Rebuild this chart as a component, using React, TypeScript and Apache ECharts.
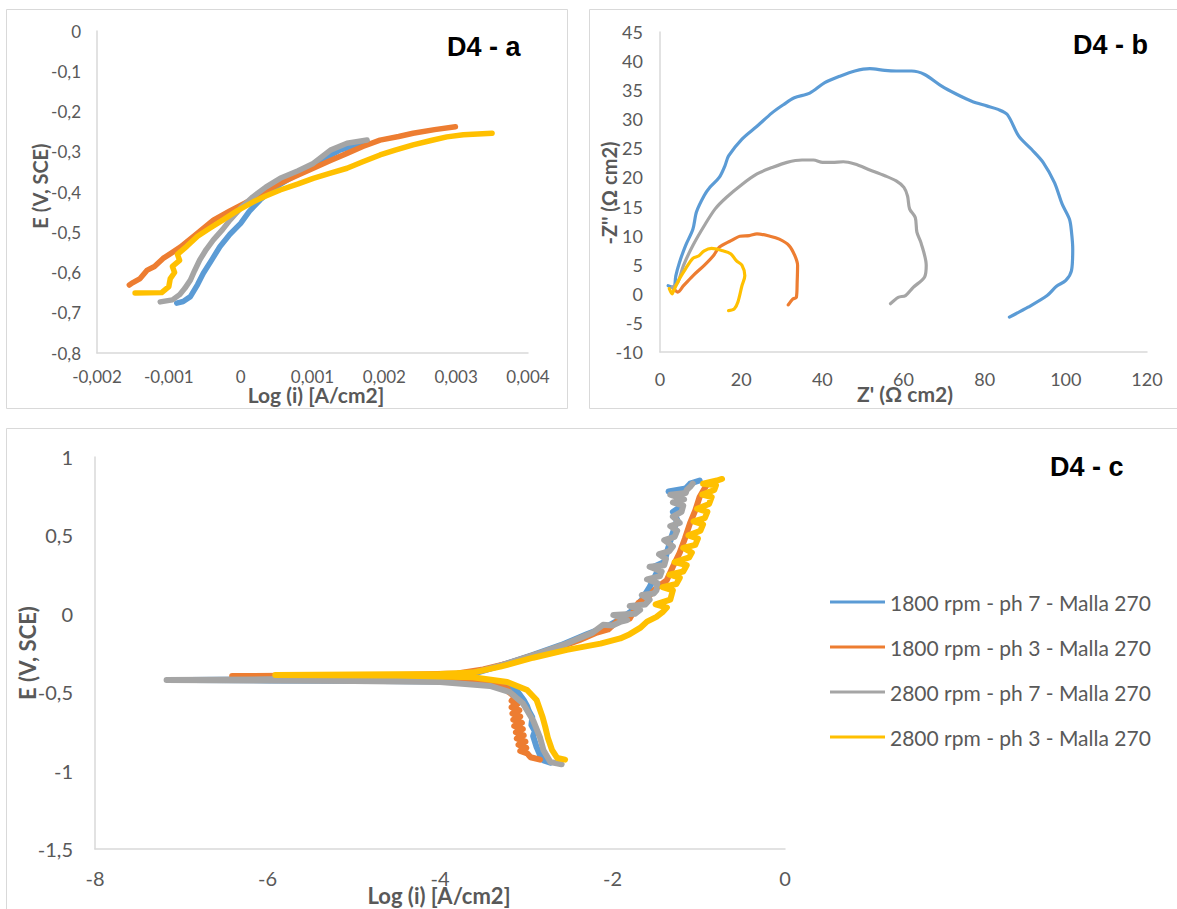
import React, { useEffect, useRef } from "react";
import * as echarts from "echarts";

const BLUE = "#5b9bd5";
const ORANGE = "#ed7d31";
const GRAY = "#a5a5a5";
const YELLOW = "#ffc000";

const seriesNames = [
  "1800 rpm - ph 7 - Malla 270",
  "1800 rpm - ph 3 - Malla 270",
  "2800 rpm - ph 7 - Malla 270",
  "2800 rpm - ph 3 - Malla 270",
];
const panelTitles = ["D4 - a", "D4 - b", "D4 - c"];

// Panel a: E vs Log(i) (narrow range)
const aBlue = [
  [-0.00089, -0.676], [-0.0008, -0.672], [-0.0007, -0.66], [-0.0006, -0.63], [-0.00052, -0.602],
  [-0.0004, -0.568], [-0.00029, -0.536], [-0.00015, -0.505], [0.0, -0.478], [0.00012, -0.448],
  [0.00027, -0.42], [0.00045, -0.392], [0.00065, -0.37], [0.00101, -0.333], [0.00138, -0.296],
  [0.00176, -0.275],
];
const aOrange = [
  [-0.00155, -0.631], [-0.0015, -0.625], [-0.0014, -0.615], [-0.0013, -0.594], [-0.0012, -0.585],
  [-0.00108, -0.565], [-0.00095, -0.55], [-0.00084, -0.537], [-0.0006, -0.502], [-0.00038, -0.47],
  [-0.00015, -0.447], [0.00009, -0.425], [0.0003, -0.402], [0.00055, -0.378], [0.0008, -0.358],
  [0.00101, -0.341], [0.00125, -0.322], [0.00148, -0.304], [0.0017, -0.287], [0.00194, -0.271],
  [0.0022, -0.262], [0.0024, -0.254], [0.0027, -0.245], [0.00299, -0.238],
];
const aGray = [
  [-0.00112, -0.673], [-0.00095, -0.668], [-0.00085, -0.655], [-0.00078, -0.64], [-0.0007, -0.619],
  [-0.00064, -0.595], [-0.00057, -0.569], [-0.00048, -0.543], [-0.00038, -0.519], [-0.00025, -0.493],
  [-0.00015, -0.47], [0.0, -0.44], [0.00017, -0.412], [0.00035, -0.388], [0.00055, -0.366],
  [0.0008, -0.347], [0.00101, -0.329], [0.00115, -0.31], [0.00125, -0.296], [0.00148, -0.279],
  [0.00176, -0.271],
];
const aYellow = [
  [-0.00147, -0.651], [-0.0011, -0.65], [-0.001, -0.635], [-0.00098, -0.615], [-0.00092, -0.6],
  [-0.00095, -0.585], [-0.00085, -0.57], [-0.00088, -0.555], [-0.00075, -0.535], [-0.0006, -0.51],
  [-0.00043, -0.49], [-0.00025, -0.47], [-0.00005, -0.447], [0.00017, -0.425], [0.00035, -0.41],
  [0.00055, -0.395], [0.0008, -0.38], [0.00101, -0.366], [0.00125, -0.353], [0.00148, -0.341],
  [0.0017, -0.325], [0.00194, -0.308], [0.00215, -0.296], [0.0024, -0.283], [0.00265, -0.272],
  [0.00287, -0.263], [0.0031, -0.258], [0.0033, -0.256], [0.0035, -0.254],
];

// Panel b: Nyquist, Z' vs -Z''
const bBlue = [
  [2.0, 1.4], [3.4, 1.1], [3.9, 3.1], [4.8, 5.4], [6.3, 8.3], [8.1, 11.1], [9.0, 14.1], [10.9, 16.9],
  [12.3, 18.3], [14.6, 20.0], [16.0, 22.0], [16.9, 23.7], [20.2, 26.6], [23.9, 28.8], [27.6, 31.1],
  [30.4, 32.5], [33.1, 33.7], [36.9, 34.5], [40.6, 36.3], [44.3, 37.4], [48.0, 38.3], [51.7, 38.7],
  [55.4, 38.4], [58.2, 38.3], [62.0, 38.3], [65.2, 37.7], [69.4, 35.7], [73.1, 34.3], [76.8, 33.1],
  [80.5, 32.3], [83.3, 31.7], [85.6, 30.8], [88.4, 27.1], [91.6, 24.8], [94.4, 22.6], [97.2, 19.1],
  [99.1, 15.4], [100.9, 12.8], [101.4, 10.6], [101.7, 7.7], [101.4, 4.0], [100.0, 2.3], [97.7, 1.3],
  [95.4, -0.3], [90.7, -2.3], [86.1, -4.0],
];
const bOrange = [
  [3.4, 0.8], [4.4, 0.3], [5.8, 1.4], [8.1, 3.1], [10.9, 4.9], [13.2, 6.6], [14.6, 8.0], [17.4, 9.1],
  [19.7, 9.9], [22.0, 10.0], [23.9, 10.3], [27.1, 9.9], [29.4, 9.4], [31.8, 8.3], [33.2, 6.6],
  [33.9, 4.9], [33.8, 2.0], [33.6, -0.6], [32.7, -0.9], [31.6, -1.9],
];
const bGray = [
  [3.0, 1.1], [4.4, 2.0], [5.8, 4.9], [8.1, 8.3], [10.9, 11.7], [13.6, 14.6], [16.4, 16.6], [20.2, 18.8],
  [23.9, 20.6], [27.6, 21.7], [31.3, 22.6], [35.0, 23.0], [37.8, 23.0], [40.1, 22.6], [42.4, 22.6],
  [45.2, 22.7], [48.0, 22.3], [51.7, 21.3], [55.4, 20.3], [58.2, 19.4], [60.1, 18.3], [61.0, 16.8],
  [61.5, 14.6], [62.9, 13.1], [63.3, 10.6], [64.3, 8.8], [65.6, 4.9], [65.2, 2.9], [62.4, 1.1],
  [60.5, -0.3], [58.7, -0.6], [56.8, -1.7],
];
const bYellow = [
  [2.3, 0.9], [3.0, 0.0], [3.4, 0.6], [4.8, 2.6], [6.3, 4.3], [8.1, 6.1], [9.5, 6.5], [10.9, 7.4],
  [12.7, 7.8], [15.5, 7.4], [17.4, 6.9], [18.8, 5.7], [20.2, 4.9], [20.9, 3.1], [20.2, 1.4],
  [19.2, -1.4], [18.3, -2.6], [16.9, -2.9],
];

// Panel c: Tafel, E vs Log(i)
const cBlue = [
  [-2.72, -0.95], [-2.8, -0.935], [-2.84, -0.9], [-2.88, -0.85], [-2.92, -0.78], [-2.9, -0.75],
  [-2.94, -0.71], [-2.93, -0.66], [-2.97, -0.62], [-2.99, -0.59], [-3.03, -0.55], [-3.11, -0.49],
  [-3.25, -0.462], [-3.5, -0.445], [-4.0, -0.432], [-5.0, -0.427], [-6.0, -0.425], [-6.9, -0.422],
  [-6.0, -0.418], [-5.0, -0.412], [-4.0, -0.4], [-3.6, -0.38], [-3.3, -0.33], [-2.92, -0.262],
  [-2.6, -0.2], [-2.3, -0.13], [-2.06, -0.08], [-1.9, -0.03], [-1.76, 0.025], [-1.66, 0.09],
  [-1.57, 0.17], [-1.47, 0.28], [-1.52, 0.3], [-1.4, 0.33], [-1.37, 0.39], [-1.31, 0.5],
  [-1.25, 0.6], [-1.3, 0.65], [-1.22, 0.68], [-1.22, 0.77], [-1.35, 0.78], [-1.15, 0.8],
  [-1.1, 0.83], [-0.99, 0.85],
];
const cOrange = [
  [-2.84, -0.93], [-2.95, -0.915], [-2.99, -0.89], [-3.07, -0.875], [-3.0, -0.855], [-3.09, -0.835],
  [-3.01, -0.815], [-3.11, -0.795], [-3.03, -0.775], [-3.12, -0.755], [-3.04, -0.735], [-3.14, -0.715],
  [-3.05, -0.695], [-3.15, -0.675], [-3.07, -0.655], [-3.16, -0.635], [-3.08, -0.615], [-3.17, -0.595],
  [-3.1, -0.575], [-3.17, -0.555], [-3.13, -0.53], [-3.2, -0.5], [-3.22, -0.475], [-3.4, -0.445],
  [-3.62, -0.425], [-4.5, -0.405], [-5.5, -0.4], [-6.41, -0.397], [-5.5, -0.394], [-4.5, -0.39],
  [-3.8, -0.38], [-3.5, -0.355], [-3.2, -0.315], [-2.92, -0.265], [-2.6, -0.21], [-2.38, -0.167],
  [-2.18, -0.12], [-2.05, -0.1], [-1.95, -0.05], [-1.8, -0.03], [-1.7, 0.07], [-1.6, 0.1],
  [-1.5, 0.16], [-1.37, 0.215], [-1.3, 0.3], [-1.22, 0.39], [-1.16, 0.48], [-1.1, 0.58],
  [-1.04, 0.66], [-0.99, 0.745], [-0.9, 0.83],
];
const cGray = [
  [-2.59, -0.96], [-2.72, -0.945], [-2.8, -0.87], [-2.84, -0.79], [-2.92, -0.68], [-3.04, -0.57],
  [-3.19, -0.5], [-3.42, -0.46], [-4.0, -0.435], [-5.0, -0.428], [-6.0, -0.425], [-7.17, -0.422],
  [-6.0, -0.418], [-5.0, -0.413], [-4.0, -0.4], [-3.6, -0.375], [-3.3, -0.33], [-2.92, -0.265],
  [-2.53, -0.19], [-2.23, -0.12], [-2.11, -0.07], [-2.0, -0.075], [-1.9, -0.05], [-1.83, -0.04],
  [-1.99, -0.008], [-1.74, 0.0], [-1.68, 0.025], [-1.8, 0.05], [-1.62, 0.06], [-1.57, 0.09],
  [-1.66, 0.12], [-1.52, 0.13], [-1.49, 0.15], [-1.48, 0.196], [-1.6, 0.22], [-1.45, 0.24],
  [-1.43, 0.27], [-1.57, 0.3], [-1.4, 0.31], [-1.38, 0.35], [-1.46, 0.38], [-1.34, 0.4],
  [-1.3, 0.43], [-1.4, 0.47], [-1.28, 0.49], [-1.25, 0.53], [-1.33, 0.56], [-1.22, 0.58],
  [-1.3, 0.62], [-1.2, 0.65], [-1.18, 0.69], [-1.3, 0.71], [-1.17, 0.73], [-1.33, 0.76],
  [-1.15, 0.77], [-1.14, 0.79], [-1.1, 0.81], [-1.07, 0.83],
];
const cYellow = [
  [-2.55, -0.93], [-2.64, -0.92], [-2.7, -0.87], [-2.75, -0.79], [-2.78, -0.72], [-2.81, -0.66],
  [-2.88, -0.55], [-2.99, -0.486], [-3.22, -0.435], [-3.62, -0.405], [-4.5, -0.393], [-5.91, -0.39],
  [-4.5, -0.386], [-4.0, -0.384], [-3.62, -0.375], [-3.3, -0.337], [-2.92, -0.28], [-2.53, -0.23],
  [-2.14, -0.19], [-1.91, -0.157], [-1.8, -0.13], [-1.68, -0.09], [-1.6, -0.05], [-1.49, -0.02],
  [-1.42, 0.01], [-1.37, 0.04], [-1.5, 0.06], [-1.33, 0.09], [-1.3, 0.15], [-1.42, 0.17],
  [-1.26, 0.19], [-1.22, 0.23], [-1.34, 0.25], [-1.18, 0.27], [-1.14, 0.31], [-1.28, 0.33],
  [-1.11, 0.36], [-1.08, 0.39], [-1.18, 0.42], [-1.04, 0.44], [-1.01, 0.48], [-1.12, 0.5],
  [-0.98, 0.53], [-0.95, 0.57], [-1.06, 0.59], [-0.93, 0.61], [-0.9, 0.65], [-1.02, 0.67],
  [-0.88, 0.7], [-0.85, 0.745], [-0.96, 0.76], [-0.82, 0.79], [-0.8, 0.82], [-0.95, 0.83],
  [-0.79, 0.85], [-0.73, 0.86],
];

const LABEL_COLOR = "#595959";
const AXIS_COLOR = "#d9d9d9";
const FONT = "Lato";

const fmt = (d: number) => (v: number) => String(Number(v.toFixed(d))).replace(".", ",");

function axis(grid: number, min: number, max: number, interval: number, decimals: number, fontSize: number, margin: number) {
  return {
    type: "value",
    gridIndex: grid,
    min,
    max,
    interval,
    axisLine: { show: true, onZero: false, lineStyle: { color: AXIS_COLOR, width: 1.5 } },
    axisTick: { show: false },
    splitLine: { show: false },
    axisLabel: { color: LABEL_COLOR, fontSize, fontFamily: FONT, margin, formatter: fmt(decimals) },
  };
}

function line(name: string, data: number[][], color: string, idx: number, width: number, smooth: boolean | number, z: number) {
  return {
    type: "line",
    name,
    data,
    xAxisIndex: idx,
    yAxisIndex: idx,
    symbol: "none",
    showSymbol: false,
    smooth,
    z,
    lineStyle: { color, width, cap: "round", join: "round" },
    itemStyle: { color },
  };
}

function txt(x: number, y: number, text: string, font: string, fill: string, align: string, rotation = 0) {
  return {
    type: "text",
    x,
    y,
    rotation,
    silent: true,
    style: { text, font, fill, align, verticalAlign: "middle" },
  };
}

export default function App() {
  const ref = useRef<HTMLDivElement>(null);
  useEffect(() => {
    document.body.style.margin = "0";
    const chart = echarts.init(ref.current!, null, { renderer: "svg" });
    const colors = [BLUE, ORANGE, GRAY, YELLOW];
    const aData = [aBlue, aOrange, aGray, aYellow];
    const bData = [bBlue, bOrange, bGray, bYellow];
    const cData = [cBlue, cOrange, cGray, cYellow];
    const series: any[] = [];
    aData.forEach((d, i) => series.push(line("a " + seriesNames[i], d, colors[i], 0, 5.5, false, 2 + i)));
    bData.forEach((d, i) => series.push(line("b " + seriesNames[i], d, colors[i], 1, 3.2, 0.3, 2 + i)));
    cData.forEach((d, i) => series.push(line(seriesNames[i], d, colors[i], 2, 6, false, 2 + i)));

    const axisTitle = `bold 20px ${FONT}`;
    const axisTitleX = `bold 21px ${FONT}`;
    const axisTitleC = `bold 22px ${FONT}`;
    const titleFont = `bold 27px "Liberation Sans", Arial, sans-serif`;

    chart.setOption({
      animation: false,
      backgroundColor: "#ffffff",
      grid: [
        { left: 97, top: 31, width: 431, height: 322 },
        { left: 660, top: 32, width: 487, height: 320 },
        { left: 95, top: 457, width: 690, height: 392 },
      ],
      xAxis: [
        axis(0, -0.002, 0.004, 0.001, 3, 17, 15),
        axis(1, 0, 120, 20, 0, 18, 18),
        axis(2, -8, 0, 2, 0, 20, 19),
      ],
      yAxis: [
        axis(0, -0.8, 0, 0.1, 1, 17, 16),
        axis(1, -10, 45, 5, 0, 18, 17),
        axis(2, -1.5, 1, 0.5, 1, 20, 22),
      ],
      legend: {
        data: seriesNames,
        orient: "vertical",
        left: 830,
        top: 591,
        padding: 0,
        icon: "rect",
        itemWidth: 55,
        itemHeight: 3,
        itemGap: 23,
        selectedMode: false,
        textStyle: { color: LABEL_COLOR, fontSize: 21, fontFamily: FONT, lineHeight: 22 },
      },
      graphic: [
        { type: "rect", silent: true, shape: { x: 6.5, y: 9.5, width: 561, height: 399 }, style: { fill: "none", stroke: AXIS_COLOR, lineWidth: 1 } },
        { type: "rect", silent: true, shape: { x: 589.5, y: 9.5, width: 600, height: 399 }, style: { fill: "none", stroke: AXIS_COLOR, lineWidth: 1 } },
        { type: "rect", silent: true, shape: { x: 6.5, y: 428.5, width: 1180, height: 490 }, style: { fill: "none", stroke: AXIS_COLOR, lineWidth: 1 } },
        txt(447, 47, panelTitles[0], titleFont, "#000000", "left"),
        txt(1073, 45, panelTitles[1], titleFont, "#000000", "left"),
        txt(1050, 467, panelTitles[2], titleFont, "#000000", "left"),
        txt(316, 394, "Log (i) [A/cm2]", axisTitleX, LABEL_COLOR, "center"),
        txt(40, 186, "E (V, SCE)", axisTitle, LABEL_COLOR, "center", Math.PI / 2),
        txt(905, 393, "Z' (Ω cm2)", axisTitleX, LABEL_COLOR, "center"),
        txt(609, 193, "-Z'' (Ω cm2)", axisTitle, LABEL_COLOR, "center", Math.PI / 2),
        txt(439, 895, "Log (i) [A/cm2]", axisTitleC, LABEL_COLOR, "center"),
        txt(27, 653, "E (V, SCE)", axisTitleC, LABEL_COLOR, "center", Math.PI / 2),
      ],
      series,
    });
    return () => chart.dispose();
  }, []);
  return <div ref={ref} style={{ width: 1177, height: 909 }} />;
}
